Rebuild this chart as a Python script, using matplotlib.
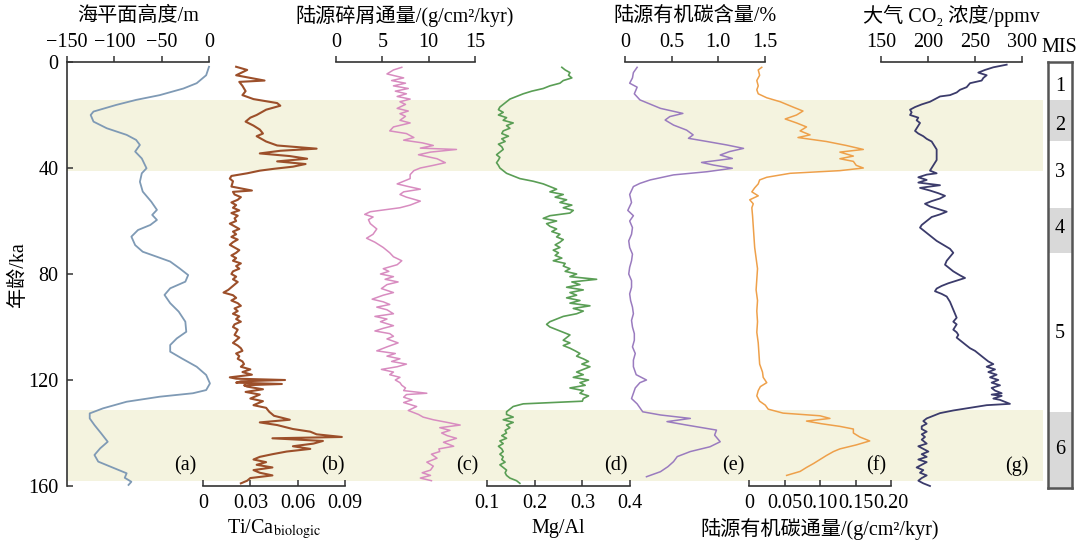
import matplotlib
matplotlib.use('Agg')
import matplotlib.pyplot as plt

# ---------------- data (age in ka) ----------------
sl_age = [1.8, 5, 8, 10, 12.5, 14.3, 16.2, 18.7, 20, 22.5, 25, 27.5, 29.4, 31.3, 33.8, 36.4, 40.1, 42, 45.2,
          48.9, 52.7, 55.8, 57.7, 59.6, 61.5, 63.4, 65.9, 69.1, 71.6, 73.5, 75.3, 77.9, 80.4, 82.9, 85.4, 87.9,
          91, 94.2, 98, 101.8, 104.3, 106.8, 109.3, 111.8, 115, 118.1, 121.3, 123.8, 125, 126.3, 128.2, 130.7,
          132.6, 134.5, 137, 140.1, 143.3, 145.8, 148.3, 150.8, 153.3, 155.2, 156.9, 158.4, 159.6]
sl_val = [0, -3, -13, -27, -52, -77, -98, -122, -125, -122, -108, -87, -77, -73, -78, -71, -66, -71, -73,
          -70, -61, -55, -60, -55, -62, -75, -82, -78, -70, -55, -41, -31, -22, -25, -41, -47,
          -41, -32, -25, -24, -34, -41, -41, -29, -13, -3, 1, -3, -17, -52, -87, -112,
          -126, -126, -121, -114, -107, -115, -121, -117, -100, -87, -89, -82, -85]

ti_age = [1.8, 3, 5, 7, 7.5, 9, 11, 12.5, 14, 15.5, 16.5, 18, 20, 21, 22.5, 24, 25.5, 27, 28, 30, 31.5, 32.7,
          33.5, 34.5, 35.5, 36.5, 37.5, 38.5, 39.5, 40.3, 41, 42, 43, 44, 45, 47, 48.5, 49,
          50, 51, 52, 53, 54, 55, 56, 57, 58, 59, 60, 61, 62, 63, 64, 65, 66, 67, 68, 69, 70, 71, 72, 73,
          74, 75, 76, 77, 78, 79, 80, 81, 82, 83, 84, 85, 86, 87, 88, 89, 90, 91, 92, 93, 94, 95, 96, 97,
          98, 99, 100, 101, 102, 103, 104, 105, 106, 107, 108, 109, 110, 111, 112, 113, 114, 115, 116, 117,
          118, 119, 119.5, 120, 120.5, 121, 121.5, 122, 122.5, 123.5, 124.5, 125.5, 127, 128, 129.5, 130.5,
          132, 133.5, 135, 136, 137, 138.5, 139.5, 140.5, 141.5, 142, 143, 144, 145, 146, 147, 148, 149,
          150, 151, 152, 153, 154, 155, 156, 157, 158, 159]
ti_val = [0.021, 0.028, 0.021, 0.039, 0.023, 0.025, 0.027, 0.025, 0.032, 0.047, 0.049, 0.040, 0.034, 0.030,
          0.027, 0.032, 0.036, 0.038, 0.034, 0.040, 0.047, 0.072,
          0.049, 0.036, 0.055, 0.066, 0.047, 0.065, 0.057, 0.045, 0.036, 0.028, 0.018, 0.017, 0.019, 0.018,
          0.031, 0.019,
          0.020, 0.024, 0.022, 0.018, 0.021, 0.019, 0.023, 0.018, 0.022, 0.020, 0.021, 0.017, 0.020, 0.023,
          0.019, 0.021, 0.018, 0.022, 0.019, 0.017, 0.020, 0.023, 0.021, 0.018,
          0.021, 0.019, 0.024, 0.021, 0.023, 0.019, 0.018, 0.021, 0.019, 0.022, 0.020, 0.018, 0.016, 0.013,
          0.019, 0.021, 0.018, 0.022, 0.024, 0.020, 0.022, 0.019, 0.023, 0.021,
          0.024, 0.020, 0.019, 0.022, 0.021, 0.020, 0.023, 0.021, 0.019, 0.022, 0.024, 0.025, 0.021, 0.023,
          0.022, 0.025, 0.026, 0.024, 0.030, 0.025,
          0.031, 0.017, 0.021, 0.052, 0.024, 0.021, 0.050, 0.026, 0.028, 0.038, 0.027, 0.036, 0.030, 0.038,
          0.032, 0.040,
          0.042, 0.045, 0.055, 0.036, 0.047, 0.057, 0.068, 0.072, 0.088, 0.044, 0.076, 0.070, 0.057, 0.068,
          0.053, 0.044, 0.036,
          0.032, 0.040, 0.034, 0.044, 0.032, 0.036, 0.044, 0.030, 0.028, 0.024]

det_age = [2, 3, 4.5, 6, 7, 8, 9, 10, 11, 12, 13, 14, 15, 16, 17.5, 18.5, 19.5, 20.5, 22, 23, 24.5, 26, 27,
           28.5, 29.5, 30.5, 31.5, 32.5, 33, 34, 35, 36.5, 38, 39, 40, 41, 42.5, 44, 45, 46, 47, 48, 49, 50,
           51, 52.5, 54, 55, 56.5, 57.5, 58.5, 59.5, 61, 63, 65, 66.5, 68, 70, 72, 73.5, 75, 76.5, 78, 79,
           80, 81, 82, 83, 84, 85.5, 87, 88, 89.5, 90.5, 91.5, 92.5, 93.5, 95, 96, 97, 98, 99.5, 100.5,
           101.5, 102.5, 103.5, 104.5, 106, 107.5, 109, 110, 111, 112, 113, 114, 115, 116, 117, 118, 119,
           120, 121, 122, 123, 124, 125, 125.5, 126.5, 127.5, 128.5, 130, 131.5, 133, 134, 135, 136, 137,
           138, 139, 140, 141, 142, 143.5, 145, 146, 147, 148, 149.5, 151, 152.5, 154, 155, 156, 157, 158]
det_val = [7.1, 6.2, 5.5, 7.3, 6.0, 7.5, 6.2, 7.8, 6.4, 7.6, 6.6, 8.0, 6.9, 7.5, 6.6, 7.8, 6.9, 7.5, 6.9,
           8.0, 6.2, 5.8, 7.6, 8.4, 7.3, 9.3, 10.5, 9.1, 13.0, 10.2, 8.9, 10.9, 11.8, 10.5, 9.1, 8.4, 8.0,
           8.0, 7.3, 6.6, 7.8, 9.1, 7.3, 6.9, 7.6, 9.1, 8.0, 6.9, 3.7, 3.1, 4.0, 3.5, 3.7, 4.4, 4.0, 3.3,
           4.2, 5.1, 5.8, 6.2, 7.1, 6.6, 5.1, 5.7, 4.8, 6.2, 5.3, 6.7, 5.5, 4.9, 6.2, 5.1, 3.9, 5.1, 5.8,
           4.4, 5.5, 6.2, 4.2, 5.5, 4.8, 6.2, 5.1, 4.2, 5.8, 6.2, 5.5, 6.7, 5.5, 4.4, 6.4, 5.5, 6.9, 6.0,
           7.6, 6.6, 4.9, 6.2, 5.8, 6.9, 6.4, 6.9, 7.1, 7.5, 7.3, 9.8, 7.6, 7.3, 8.2, 7.3, 8.7, 7.8, 8.9,
           9.4, 10.5, 12.0, 13.4, 11.2, 12.3, 11.4, 12.0, 13.0, 11.6, 12.7, 11.1, 11.2, 10.3, 10.9, 9.8,
           10.5, 10.2, 9.3, 10.2, 9.1, 10.3]

mg_age = [2, 3, 4, 5, 6, 7, 8, 9, 10, 11, 12, 13, 14, 15, 16, 17, 18, 19, 20, 21, 22, 23, 24, 25, 26, 27,
          28, 29, 30, 31, 32, 33, 34, 35, 36, 37, 38, 39, 40, 41, 42, 43, 44, 45, 46, 47, 48, 49, 50, 51,
          52, 53, 54, 55, 56, 57, 58, 59, 60, 61, 62, 63, 64, 65, 66, 67, 68, 69, 70, 71, 72, 73, 74, 75,
          76, 77, 78, 79, 80, 81, 82, 83, 84, 85, 86, 87, 88, 89, 90, 91, 92, 93, 94, 95, 96, 97, 98, 99,
          100, 101, 102, 103, 104, 105, 106, 107, 108, 109, 110, 111, 112, 113, 114, 115, 116, 117, 118,
          119, 120, 121, 122, 123, 124, 125, 126, 127, 128, 129, 130, 131, 132, 133, 134, 135, 136, 137,
          138, 139, 140, 141, 142, 143, 144, 145, 146, 147, 148, 149, 150, 151, 152, 153, 154, 155, 156,
          157, 158, 159]
mg_val = [0.257, 0.264, 0.274, 0.271, 0.278, 0.260, 0.253, 0.232, 0.218, 0.194, 0.176, 0.162, 0.148, 0.141,
          0.134, 0.127, 0.124, 0.134, 0.124, 0.141, 0.134, 0.155, 0.141, 0.148, 0.134, 0.131, 0.145, 0.131,
          0.138, 0.124, 0.131, 0.134, 0.127, 0.120, 0.127, 0.124, 0.120, 0.124, 0.127, 0.134, 0.141, 0.155,
          0.169, 0.197, 0.218, 0.232, 0.246, 0.232, 0.260, 0.243, 0.267, 0.253, 0.278, 0.260, 0.281, 0.274,
          0.232, 0.218, 0.246, 0.225, 0.232, 0.246, 0.236, 0.253, 0.246, 0.260, 0.253, 0.243, 0.253, 0.239,
          0.250, 0.243, 0.257, 0.239, 0.264, 0.260, 0.274, 0.264, 0.288, 0.274, 0.330, 0.278, 0.295, 0.267,
          0.302, 0.274, 0.288, 0.267, 0.295, 0.274, 0.316, 0.281, 0.302, 0.288, 0.260, 0.246, 0.232, 0.225,
          0.232, 0.246, 0.260, 0.274, 0.267, 0.260, 0.274, 0.260, 0.274, 0.285, 0.295, 0.288, 0.302, 0.313,
          0.299, 0.316, 0.302, 0.288, 0.302, 0.281, 0.313, 0.295, 0.306, 0.274, 0.302, 0.295, 0.313, 0.302,
          0.300, 0.176, 0.155, 0.148, 0.141, 0.141, 0.155, 0.134, 0.155, 0.141, 0.148, 0.138, 0.141, 0.131,
          0.141, 0.127, 0.134, 0.124, 0.131, 0.134, 0.127, 0.134, 0.131, 0.138, 0.127, 0.134, 0.141, 0.138,
          0.141, 0.148, 0.162, 0.169]

oc_age = [2, 4, 6, 8, 9.5, 12, 14.3, 17.5, 19.4, 20.6, 21.9, 23.8, 25.7, 27.5, 28.8, 30, 31.3, 32.6, 33.8,
          35.1, 36.4, 37.9, 38.9, 40.1, 41.4, 42.6, 44.5, 45.8, 47, 50, 53, 56, 58, 60, 62.5, 65, 67.5, 70,
          72.5, 75, 77.5, 80, 82.5, 85, 87.5, 90, 92.5, 95, 97.5, 100, 102.5, 105, 107.5, 110, 112.5, 115,
          118, 120, 121, 123, 125, 127, 129, 130.5, 132, 133.2, 134.5, 135.7, 137, 138.9, 140.8, 143.3,
          145.2, 147, 148.9, 150.8, 152.7, 154.6, 156.5]
oc_val = [0.13, 0.09, 0.08, 0.05, 0.13, 0.10, 0.16, 0.38, 0.62, 0.48, 0.43, 0.52, 0.66, 0.73, 0.68, 0.88,
          1.09, 1.27, 1.12, 1.02, 1.15, 0.82, 0.95, 1.15, 0.88, 0.52, 0.27, 0.16, 0.09, 0.05, 0.07, 0.03,
          0.09, 0.05, 0.08, 0.07, 0.04, 0.05, 0.08, 0.07, 0.05, 0.04, 0.07, 0.07, 0.05, 0.06, 0.08, 0.09,
          0.07, 0.08, 0.10, 0.10, 0.08, 0.11, 0.09, 0.09, 0.12, 0.23, 0.16, 0.11, 0.09, 0.07, 0.13, 0.16,
          0.19, 0.38, 0.70, 0.45, 0.66, 0.98, 0.96, 1.02, 0.91, 0.70, 0.56, 0.52, 0.46, 0.38, 0.23]

ocf_age = [2, 3, 5, 7, 9, 10.5, 12, 13.5, 15, 17, 18.5, 20, 21.5, 23, 24.5, 26, 27.5, 28.5, 30, 31.5, 33,
           34, 35.5, 36.5, 37.5, 39, 40, 41, 42, 43.5, 44.5, 46, 47.5, 49, 50.5, 52, 53.5, 55, 58, 62, 66,
           70, 74, 78, 82, 86, 90, 94, 98, 102, 106, 110, 114, 117, 119, 121, 122.5, 124, 126, 128, 129.5,
           131, 132.5, 133.5, 134.5, 135.5, 136.5, 137.5, 138.5, 140, 141.5, 143, 144.5, 146, 147, 148.5,
           150, 151.5, 153, 154.5, 156]
ocf_val = [0.018, 0.013, 0.015, 0.011, 0.013, 0.011, 0.013, 0.025, 0.044, 0.062, 0.076, 0.067, 0.051,
           0.067, 0.081, 0.072, 0.086, 0.069, 0.109, 0.137, 0.161, 0.128, 0.147, 0.128, 0.147, 0.151, 0.161,
           0.128, 0.058, 0.025, 0.015, 0.013, 0.008, 0.004, 0.013, 0.001, 0.006, 0.004, 0.005, 0.006, 0.007,
           0.008, 0.010, 0.012, 0.011, 0.010, 0.012, 0.011, 0.012, 0.011, 0.013, 0.014, 0.015, 0.019, 0.020,
           0.025, 0.016, 0.013, 0.011, 0.015, 0.023, 0.027, 0.048, 0.100, 0.114, 0.081, 0.102, 0.128, 0.147,
           0.147, 0.156, 0.170, 0.151, 0.128, 0.119, 0.109, 0.100, 0.091, 0.081, 0.072, 0.053]

co2_age = [1, 2, 3, 4, 5, 6, 7, 8, 9.5, 10.5, 11.5, 12.5, 13, 14, 15, 16, 17, 18, 19, 20, 21, 22, 23, 24,
           25, 26, 27, 28, 29, 30, 31, 32, 33, 34, 35, 36, 37, 38, 39, 40, 41, 42, 42.5, 43.5, 44.5, 45.5,
           46.5, 47.5, 48.5, 49.5, 50.5, 51.5, 52.5, 53.5, 54.5, 55.5, 56.5, 57.5, 58.5, 59.5, 60.5, 61.5,
           62.5, 63.5, 64.5, 66, 67.5, 69, 70.5, 72, 73.5, 75, 76.5, 78, 79, 80.5, 81.5, 82.5, 83.5, 84.5,
           85.5, 86.5, 87.5, 88.5, 89.5, 90.5, 92, 93.5, 95, 96.5, 98, 99, 100, 101, 102, 103, 104, 105,
           106, 107, 108, 109, 110, 111, 112, 113, 114, 115, 116, 117, 118, 119, 120, 121, 122, 123, 124,
           125, 125.5, 126, 127, 127.5, 128.5, 129, 129.5, 130.5, 131.5, 132.5, 133.5, 134.5, 135.5, 136.5,
           137.5, 138.5, 139.5, 140.5, 141.5, 142.5, 144, 145, 146, 147, 148, 149, 150, 151, 152, 153, 154,
           155, 156, 157, 158, 159, 160]
co2_val = [283.7, 269.5, 260.6, 253.5, 262.4, 258.9, 257.1, 244.7, 241.1, 234.0, 230.5, 223.4, 212.8,
           207.4, 202.1, 193.3, 186.2, 180.9, 182.6, 180.9, 189.7, 187.9, 191.5, 189.7, 187.9, 186.2, 189.7,
           195.0, 198.6, 203.9, 205.7, 207.4, 209.2, 209.2, 209.2, 209.2, 209.2, 207.4, 205.7, 203.9, 202.1,
           209.2, 198.6, 189.7, 198.6, 189.7, 212.8, 191.5, 202.1, 210.9, 218.1, 212.8, 203.9, 196.8, 202.1,
           210.9, 219.9, 212.8, 203.9, 200.4, 196.8, 193.3, 191.5, 195.0, 198.6, 203.9, 209.2, 216.3, 223.4,
           226.9, 223.4, 219.9, 218.1, 223.4, 226.9, 234.0, 239.4, 230.5, 221.6, 214.5, 209.2, 207.4, 214.5,
           219.9, 221.6, 223.4, 225.2, 226.9, 228.7, 230.5, 226.9, 230.5, 228.7, 226.9, 230.5, 232.3, 230.5,
           234.0, 237.6, 241.1, 244.7, 250.0, 253.5, 257.1, 260.6, 264.2, 269.5, 262.4, 271.3, 264.2, 273.0,
           266.0, 274.8, 267.7, 276.6, 267.7, 271.3, 278.4, 267.7, 278.4, 269.5, 276.6, 283.7, 287.2, 262.4,
           244.7, 226.9, 212.8, 205.7, 198.6, 195.0, 198.6, 193.3, 193.3, 198.6, 193.3, 196.8, 193.3, 198.6,
           189.7, 195.0, 200.4, 193.3, 198.6, 189.7, 198.6, 193.3, 187.9, 195.0, 191.5, 198.6, 193.3, 189.7,
           195.0, 202.1]

bands = [(14.5, 41.0), (131.5, 158.0)]
mis_bounds = [0, 14.3, 29.8, 55.0, 71.6, 131.3, 160]
mis_labels = ['1', '2', '3', '4', '5', '6']
mis_label_age = [9.3, 23.8, 41.4, 62.6, 101.8, 145.7]
age_ticks = [0, 40, 80, 120, 160]

# ---------------- styling ----------------
W, H = 1084, 544
FAM = ['Liberation Serif', 'DejaVu Serif', 'Noto Sans CJK SC']
plt.rcParams['font.family'] = FAM
plt.rcParams['mathtext.fontset'] = 'stix'
plt.rcParams['axes.unicode_minus'] = True
FS = 14.5
AX_C = '#333333'
BAND_C = '#f4f3df'

fig = plt.figure(figsize=(W / 100, H / 100), dpi=100)


def rect(x0, x1, y0=62, y1=486):
    return [x0 / W, 1 - y1 / H, (x1 - x0) / W, (y1 - y0) / H]


def ftext(x, y, s, **kw):
    fig.text(x / W, 1 - y / H, s, ha='center', va='center', fontsize=FS, **kw)


# main axes: bands + age axis
main = fig.add_axes(rect(67, 1043))
main.set_ylim(160, 0)
main.set_xlim(0, 1)
for b0, b1 in bands:
    main.axhspan(b0, b1, color=BAND_C, lw=0, zorder=0)
for s in ['top', 'right', 'bottom']:
    main.spines[s].set_visible(False)
main.spines['left'].set_color(AX_C)
main.spines['left'].set_linewidth(1.2)
main.set_xticks([])
main.set_yticks(age_ticks)
main.tick_params(axis='y', direction='in', length=4, width=1.1, color=AX_C, labelsize=FS, pad=6)
main.patch.set_visible(False)
fig.text(18 / W, 1 - 275 / H, '年龄/ka', rotation=90, ha='center', va='center', fontsize=FS)

# curve axes specification
panels = [
    (67, 209, (-150, 0), [-150, -100, -50, 0], None, 'top', '#7f9ab5', 1.3, sl_age, sl_val),
    (203, 345, (0, 0.09), [0, 0.03, 0.06, 0.09], ['0', '0.03', '0.06', '0.09'], 'bottom', '#9c4f2a', 1.5, ti_age, ti_val),
    (336, 475, (0, 15), [0, 5, 10, 15], None, 'top', '#d88cc0', 1.1, det_age, det_val),
    (487, 630, (0.1, 0.4), [0.1, 0.2, 0.3, 0.4], ['0.1', '0.2', '0.3', '0.4'], 'bottom', '#5a9e55', 1.2, mg_age, mg_val),
    (625, 765, (0, 1.5), [0, 0.5, 1.0, 1.5], ['0', '0.5', '1.0', '1.5'], 'top', '#9a7bbf', 1.1, oc_age, oc_val),
    (749, 891, (0, 0.2), [0, 0.05, 0.10, 0.15, 0.20], ['0', '0.05', '0.10', '0.15', '0.20'], 'bottom', '#eea04a', 1.1, ocf_age, ocf_val),
    (881, 1022, (150, 300), [150, 200, 250, 300], None, 'top', '#3b3b6b', 1.3, co2_age, co2_val),
]

for x0, x1, xl, ticks, tl, side, col, lw, ages, vals in panels:
    ax = fig.add_axes(rect(x0, x1))
    ax.patch.set_visible(False)
    ax.set_xlim(*xl)
    ax.set_ylim(160, 0)
    ax.plot(vals, ages, color=col, lw=lw, clip_on=False, solid_joinstyle='round')
    for s in ['top', 'bottom', 'left', 'right']:
        ax.spines[s].set_visible(s == side)
    ax.spines[side].set_color(AX_C)
    ax.spines[side].set_linewidth(1.2)
    ax.set_yticks([])
    ax.set_xticks(ticks)
    if tl is not None:
        ax.set_xticklabels(tl)
    if side == 'top':
        ax.xaxis.tick_top()
        ax.tick_params(axis='x', direction='out', length=4, width=1.1, color=AX_C, labelsize=FS, pad=3)
    else:
        ax.tick_params(axis='x', direction='in', length=4, width=1.1, color=AX_C, labelsize=FS, pad=6)

# axis titles
ftext(138, 16, '海平面高度/m')
ftext(405, 16, '陆源碎屑通量/(g/cm²/kyr)')
ftext(695, 16, '陆源有机碳含量/%')
ftext(951, 16, '大气 CO₂ 浓度/ppmv')
ftext(274, 529, r'Ti/Ca$_{\mathrm{biologic}}$')
ftext(558, 529, 'Mg/Al')
ftext(820, 529, '陆源有机碳通量/(g/cm²/kyr)')

# panel letters
for lab, xp in zip(['(a)', '(b)', '(c)', '(d)', '(e)', '(f)', '(g)'],
                   [185, 333, 467, 616, 733, 876, 1017]):
    ftext(xp, 466, lab)

# MIS column
ftext(1059, 47, 'MIS')
mis = fig.add_axes(rect(1048, 1072, 62, 488))
mis.set_ylim(160, 0)
mis.set_xlim(0, 1)
for i, lab in enumerate(mis_labels):
    fc = '#d9d9d9' if i % 2 == 1 else 'white'
    mis.axhspan(mis_bounds[i], mis_bounds[i + 1], color=fc, lw=0)
    mis.text(0.5, mis_label_age[i], lab, ha='center', va='center', fontsize=FS)
for s in mis.spines.values():
    s.set_color('#555555')
    s.set_linewidth(1.8)
mis.set_xticks([])
mis.set_yticks([])

fig.savefig('out.png', dpi=100)
